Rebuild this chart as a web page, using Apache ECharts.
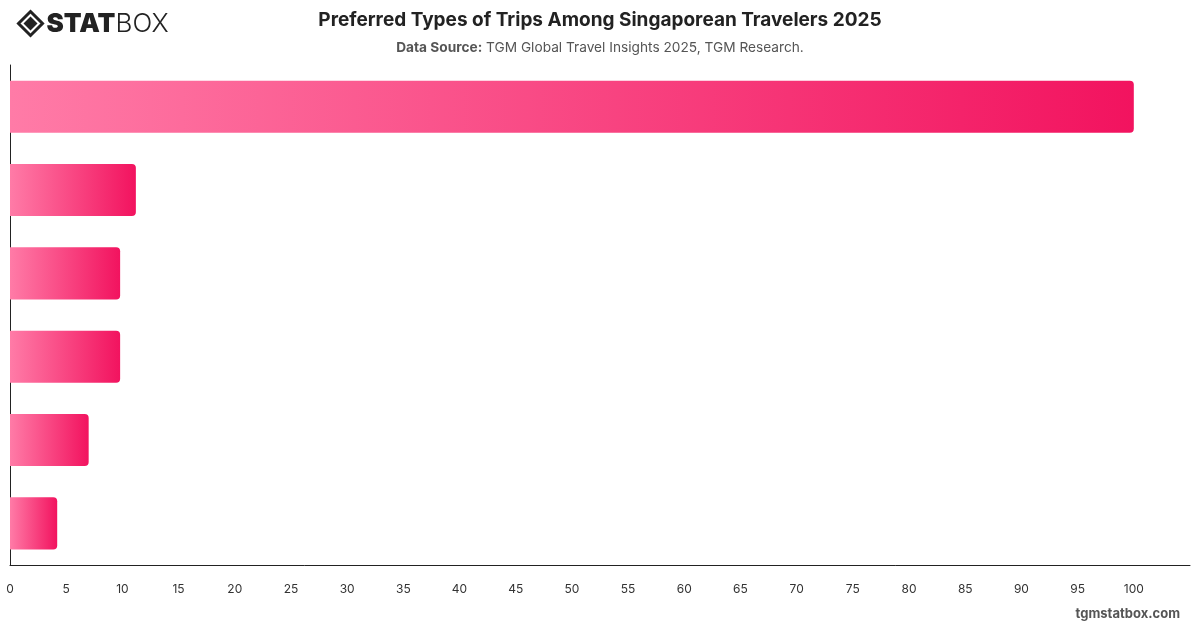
<!DOCTYPE html>
<html>
<head>
<meta charset="utf-8">
<title>Preferred Types of Trips Among Singaporean Travelers 2025</title>
<script src="https://cdn.jsdelivr.net/npm/echarts@6/dist/echarts.min.js"></script>
<style>
    html, body { margin: 0; padding: 0; background: #fff; }
    #chart { width: 1200px; height: 628px; }
</style>
</head>
<body>
<div id="chart"></div>
<script>
// category names are not printed on the chart, labels are hidden
var categories = ['Leisure', 'Visiting Friends & Relatives', 'Business', 'Shopping', 'Adventure', 'Wellness'];
var values = [100, 11.2, 9.8, 9.8, 7.0, 4.2];
var tickMin = 0, tickMax = 105, tickStep = 5;

var chart = echarts.init(document.getElementById('chart'));

var option = {
    backgroundColor: '#ffffff',
    animation: false,
    title: [{
        text: 'Preferred Types of Trips Among Singaporean Travelers 2025',
        left: 'center',
        top: 6,
        textStyle: { fontFamily: 'Inter', fontSize: 19, fontWeight: 'bold', color: '#222' }
    }, {
        text: '{b|Data Source:} TGM Global Travel Insights 2025, TGM Research.',
        left: 'center',
        top: 36,
        textStyle: {
            fontFamily: 'Inter', fontSize: 13.7, fontWeight: 'normal', color: '#555',
            rich: { b: { fontFamily: 'Inter', fontSize: 13.7, fontWeight: 'bold', color: '#555' } }
        }
    }],
    grid: { left: 10, right: 10, top: 65, bottom: 63, containLabel: false },
    xAxis: {
        type: 'value',
        min: tickMin,
        max: tickMax,
        interval: tickStep,
        splitLine: { show: false },
        axisLine: { show: true, lineStyle: { color: '#222', width: 1 } },
        axisTick: { show: false },
        axisLabel: {
            color: '#333', fontFamily: 'Inter', fontSize: 12, margin: 18,
            showMaxLabel: false
        }
    },
    yAxis: {
        type: 'category',
        data: categories,
        inverse: true,
        axisLine: { show: true, lineStyle: { color: '#222', width: 1 } },
        axisTick: { show: false },
        axisLabel: { show: false }
    },
    series: [{
        type: 'bar',
        data: values,
        barCategoryGap: '37.5%',
        itemStyle: {
            borderRadius: [0, 4, 4, 0],
            color: new echarts.graphic.LinearGradient(0, 0, 1, 0, [
                { offset: 0, color: '#ff7ba7' },
                { offset: 1, color: '#f2135f' }
            ])
        }
    }],
    graphic: [{
        type: 'group',
        left: 16,
        top: 9,
        children: [{
            type: 'polygon',
            shape: { points: [[12, 0], [24, 12], [12, 24], [0, 12]] },
            style: { fill: 'none', stroke: '#222', lineWidth: 3 }
        }, {
            type: 'polygon',
            shape: { points: [[12, 5], [19, 12], [12, 19], [5, 12]] },
            style: { fill: '#222' }
        }, {
            type: 'text',
            x: 28,
            y: 0,
            style: { text: 'STAT', fontFamily: 'Inter', fontSize: 26, fontWeight: 900, fill: '#222' }
        }, {
            type: 'text',
            x: 97,
            y: 0,
            style: { text: 'BOX', fontFamily: 'Inter', fontSize: 26, fontWeight: 300, fill: '#222' }
        }]
    }, {
        type: 'text',
        right: 20,
        top: 608,
        style: { text: 'tgmstatbox.com', fontFamily: 'Inter', fontSize: 13, fontWeight: 'bold', fill: '#555' }
    }]
};

chart.setOption(option);
window.onresize = chart.resize;
</script>
</body>
</html>
